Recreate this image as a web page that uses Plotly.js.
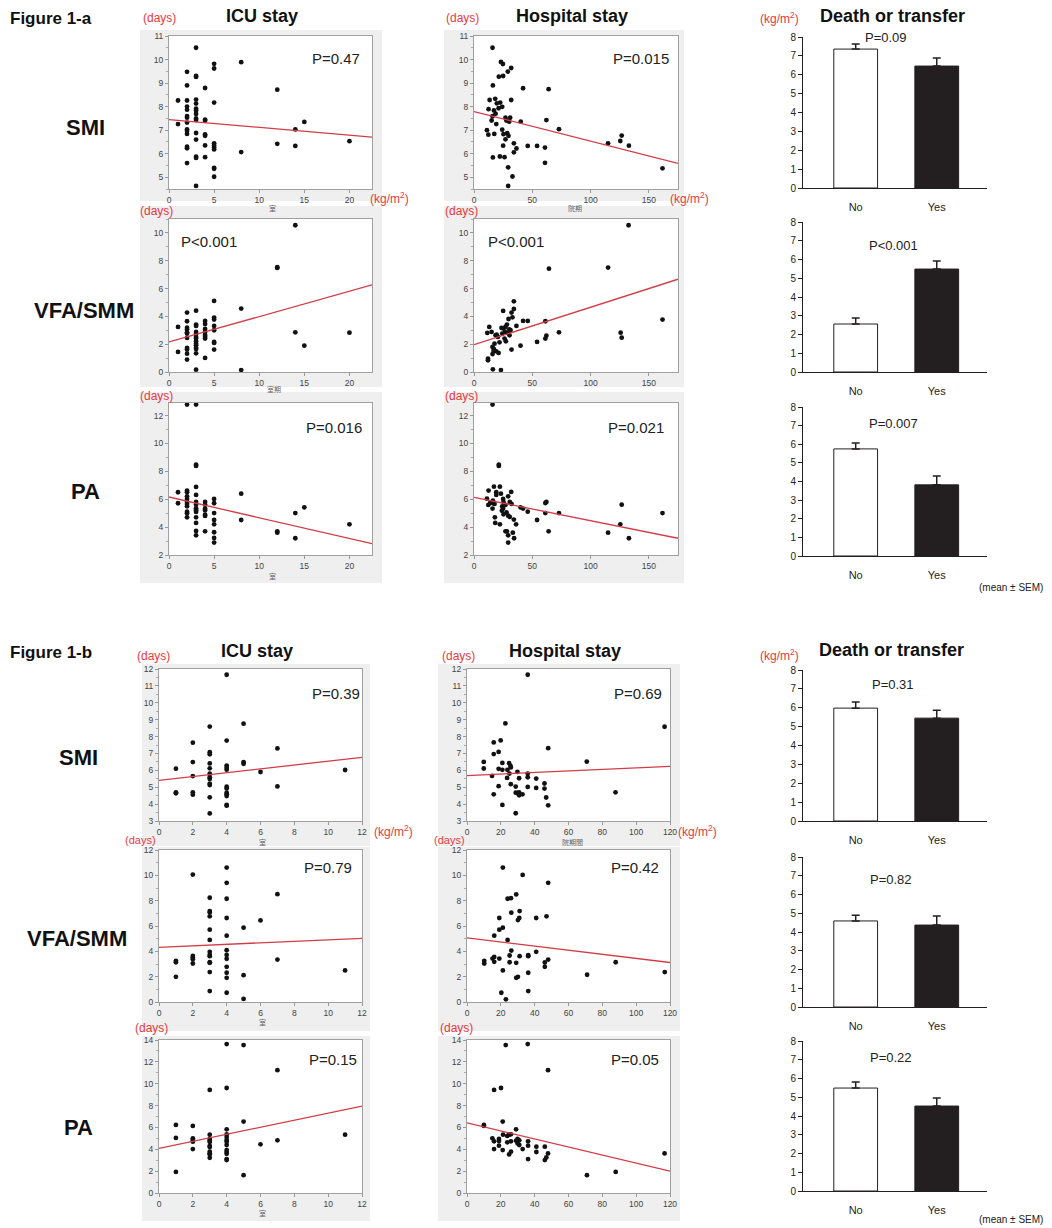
<!DOCTYPE html>
<html><head><meta charset="utf-8">
<script src="https://cdn.plot.ly/plotly-3.0.1.min.js"></script>
<style>html,body{margin:0;padding:0;background:#fff;}#chart{width:1052px;height:1228px;}</style>
</head><body><div id="chart"></div>
<script>
// ---------------- DATA ----------------
// Figure 1-a : x = stay (days), y = measure
const aIcuSmiX=[1,1,2,2,2,2,2,2,2,2,2,2,2,2,2,2,3,3,3,3,3,3,3,3,3,3,3,3,3,3,3,4,4,4,4,4,4,4,5,5,5,5,5,5,5,5,5,5,8,8,12,12,14,14,15,20];
const aIcuSmiY=[8.26,7.26,9.48,8.9,8.26,8.0,7.87,7.6,7.53,7.32,7.03,6.96,6.84,6.3,6.23,5.6,10.5,9.3,9.26,8.3,8.13,7.91,7.84,7.69,7.5,7.43,6.88,6.6,5.87,5.82,4.63,8.79,7.45,7.4,6.82,6.76,6.35,5.85,9.82,9.62,8.17,6.44,6.35,6.26,6.18,5.4,5.36,5.02,9.89,6.07,8.72,6.42,7.03,6.33,7.35,6.53];
const aHosSmiX=[15.9,23.1,24.8,31.9,29.0,21.3,25.0,16.2,42.1,64.0,13.4,18.2,31.9,22.5,19.6,24.2,21.1,12.5,17.1,18.5,15.9,27.0,31.0,15.1,27.8,30.2,40.1,62.1,19.1,11.1,24.2,72.9,12.3,17.4,25.3,28.5,29.6,27.0,25.0,34.2,36.4,34.2,46.1,54.1,60.9,60.9,16.2,22.2,26.2,29.3,33.0,29.3,115.0,125.5,126.7,132.9,161.7];
const aHosSmiY=[10.5,9.9,9.81,9.64,9.49,9.27,9.3,8.9,8.78,8.74,8.28,8.33,8.28,8.17,8.14,7.99,7.93,7.89,7.84,7.70,7.59,7.53,7.53,7.41,7.41,7.36,7.36,7.43,7.26,7.0,7.02,7.04,6.81,6.84,6.83,6.87,6.76,6.61,6.34,6.44,6.22,6.06,6.33,6.33,6.26,5.61,5.84,5.88,5.85,5.42,5.03,4.63,6.44,6.54,6.77,6.34,5.38];
const aIcuVfaX=[1,1,2,2,2,2,2,2,2,2,2,2,2,3,3,3,3,3,3,3,3,3,3,3,3,3,3,4,4,4,4,4,4,4,4,5,5,5,5,5,5,5,5,8,8,12,12,14,14,15,20];
const aIcuVfaY=[3.24,1.44,4.27,3.65,3.19,3.05,2.85,2.76,2.45,1.73,1.61,1.32,0.89,4.41,3.41,3.31,2.88,2.73,2.52,2.40,2.21,2.04,1.92,1.75,1.65,1.34,0.17,3.67,3.45,3.09,2.88,2.66,2.54,2.40,1.01,5.11,3.91,3.77,3.31,3.0,2.16,2.09,1.61,4.56,0.14,7.48,7.53,10.55,2.85,1.89,2.83];
const aHosVfaX=[132.6,115.0,64.3,25.0,34.2,34.2,32.2,33.0,29.6,36.4,42.1,46.1,61.2,161.7,13.1,11.4,15.1,18.5,23.6,25.3,27.0,28.2,30.2,31.3,24.2,26.5,29.3,30.5,20.5,26.2,27.3,21.9,17.6,15.9,17.1,19.1,21.1,15.9,16.8,12.0,12.0,32.2,39.9,54.1,61.2,62.1,72.9,125.8,126.7,16.2,23.1,19.4];
const aHosVfaY=[10.55,7.51,7.43,4.39,5.08,4.53,4.27,3.93,3.81,3.31,3.67,3.67,3.65,3.77,3.24,2.81,2.88,2.64,3.17,3.12,3.24,3.41,3.07,3.0,2.76,2.88,2.81,2.64,2.52,2.40,2.21,2.13,2.04,1.80,1.65,1.49,1.37,1.29,1.51,0.96,0.84,1.61,1.89,2.16,2.40,2.61,2.85,2.83,2.47,0.19,0.14,2.69];
const aIcuPaX=[1,1,2,2,2,2,2,2,2,2,2,2,2,3,3,3,3,3,3,3,3,3,3,3,3,3,3,4,4,4,4,4,4,4,5,5,5,5,5,5,5,5,8,8,12,12,14,14,15,20];
const aIcuPaY=[6.50,5.71,12.79,6.62,6.50,6.21,6.02,5.80,5.66,5.49,5.11,4.99,4.70,12.79,8.48,8.39,6.88,6.31,5.80,5.61,5.35,5.21,5.09,4.70,4.30,3.72,3.41,5.80,5.61,5.33,5.21,4.89,4.80,3.70,6.02,5.71,5.01,4.51,4.20,3.63,3.22,2.89,6.40,4.51,3.70,3.60,5.01,3.20,5.42,4.20];
const aHosPaX=[15.9,21.3,21.3,17.1,22.2,12.5,19.1,19.1,23.1,31.9,29.3,11.1,13.9,12.3,16.2,15.7,17.6,25.0,25.3,30.7,32.2,27.0,24.2,15.9,25.0,23.9,27.9,25.3,29.3,30.7,17.9,18.2,22.2,34.2,36.1,27.0,28.2,33.3,29.3,34.4,29.3,39.9,42.1,46.1,54.1,61.2,62.1,61.2,64.0,72.9,115.0,125.5,126.7,132.9,161.7];
const aHosPaY=[12.79,8.48,8.39,6.90,6.90,6.62,6.50,6.31,6.40,6.52,6.21,6.04,5.73,5.59,5.90,5.73,5.66,6.02,5.80,5.80,5.66,5.59,5.49,5.33,5.33,5.18,5.06,4.92,4.82,4.73,4.70,4.30,4.20,4.54,4.20,3.70,3.70,3.60,3.41,3.20,2.89,5.42,5.33,5.11,4.51,5.73,5.80,5.01,3.70,5.01,3.60,4.20,5.61,3.20,5.01];
// Figure 1-b
const bIcuSmiX=[1,1,1,2,2,2,2,2,3,3,3,3,3,3,3,3,3,3,3,3,4,4,4,4,4,4,4,4,4,4,4,4,5,5,5,6,7,7,11];
const bIcuSmiY=[6.10,4.70,4.64,7.64,6.49,5.66,4.70,4.56,8.59,7.07,6.95,6.41,6.12,5.80,5.59,5.49,5.21,5.13,4.40,3.45,11.66,7.76,6.28,6.16,6.04,5.03,4.93,4.68,4.58,4.48,3.95,3.91,8.76,6.49,6.39,5.90,7.30,5.05,6.02];
const bHosSmiX=[35.9,22.7,116.8,19.9,15.8,48.0,18.7,15.8,9.9,70.8,20.9,24.9,25.7,25.9,9.9,18.7,20.9,23.9,29.8,35.9,25.1,14.8,23.7,30.8,35.9,40.9,25.9,45.8,18.7,28.8,35.9,40.9,45.8,15.8,28.8,29.8,30.8,30.8,32.8,87.8,46.8,20.9,48.0,28.8];
const bHosSmiY=[11.66,8.78,8.58,7.77,7.65,7.31,7.09,6.96,6.50,6.52,6.44,6.42,6.26,6.17,6.11,6.09,6.03,6.03,5.91,5.81,5.81,5.67,5.55,5.53,5.59,5.51,5.18,5.22,5.06,5.04,5.02,4.96,4.92,4.58,4.68,4.66,4.70,4.52,4.58,4.70,4.39,3.95,3.93,3.46];
const bIcuVfaX=[1,1,1,2,2,2,2,2,3,3,3,3,3,3,3,3,3,3,3,3,3,4,4,4,4,4,4,4,4,4,4,4,4,5,5,5,6,7,7,11];
const bIcuVfaY=[3.25,3.14,1.99,10.06,3.64,3.51,3.38,3.04,8.23,7.18,7.07,6.76,5.71,4.90,3.96,3.72,3.62,3.14,3.09,2.36,0.86,10.61,9.41,8.15,6.63,5.24,4.09,3.72,3.41,2.78,2.31,1.91,0.73,5.87,2.12,0.24,6.44,8.51,3.35,2.49];
const bHosVfaX=[21.2,32.9,48.0,29.1,24.0,26.0,31.1,26.2,19.1,30.9,30.1,40.9,47.0,19.1,21.2,16.1,24.0,26.2,40.9,10.2,10.2,15.1,16.1,16.1,19.1,25.2,25.2,31.1,36.2,36.2,29.1,48.0,46.0,46.0,87.9,21.2,36.2,29.1,30.1,71.0,116.9,20.3,36.2,23.0];
const bHosVfaY=[10.61,10.03,9.41,8.49,8.15,8.20,7.18,7.05,6.63,6.63,6.47,6.63,6.76,5.71,5.87,5.24,4.90,4.06,3.96,3.25,3.04,3.43,3.56,3.17,3.43,3.67,3.14,3.62,3.69,3.62,3.09,3.35,3.12,2.78,3.14,2.49,2.31,1.91,1.99,2.15,2.36,0.73,0.86,0.21];
const bIcuPaX=[1,1,1,2,2,2,2,2,3,3,3,3,3,3,3,3,3,3,3,4,4,4,4,4,4,4,4,4,4,4,4,4,5,5,5,6,7,7,11];
const bIcuPaY=[6.23,5.04,1.93,6.14,5.0,4.85,4.70,4.02,9.43,5.34,4.94,4.79,4.67,4.30,4.21,3.78,3.62,3.53,3.22,13.63,9.61,5.83,5.37,5.13,4.85,4.70,4.39,3.93,3.75,3.59,3.10,3.01,13.54,6.54,1.63,4.45,11.24,4.82,5.34];
const bHosPaX=[35.9,22.9,47.9,20.1,16.0,21.1,10.0,10.0,29.0,21.3,24.9,26.0,23.8,15.0,29.9,18.9,30.9,18.9,16.0,29.0,26.0,36.1,23.8,29.9,30.9,18.9,36.1,41.0,46.0,16.0,32.9,21.1,26.0,41.0,24.9,47.9,46.9,46.0,36.1,116.8,87.9,70.9];
const bHosPaY=[13.63,13.54,11.24,9.61,9.43,6.54,6.23,6.14,5.83,5.34,5.34,5.37,5.22,5.0,4.94,4.94,4.82,4.76,4.73,4.79,4.73,4.73,4.64,4.54,4.39,4.33,4.33,4.24,4.24,4.02,4.02,3.93,3.78,3.75,3.53,3.62,3.25,3.01,3.10,3.62,1.93,1.63];

// regression line end points (x at axis start / end, fitted y)
const fitIcuA=[0,22.5], fitHosA=[0,175], fitIcuB=[0,12], fitHosB=[0,120];
const aIcuSmiFit=[7.45,6.70], aHosSmiFit=[7.79,5.59];
const aIcuVfaFit=[2.16,6.26], aHosVfaFit=[1.97,6.67];
const aIcuPaFit=[6.16,2.81],  aHosPaFit=[6.14,3.20];
const bIcuSmiFit=[5.41,6.77], bHosSmiFit=[5.69,6.24];
const bIcuVfaFit=[4.32,5.03], bHosVfaFit=[5.06,3.12];
const bIcuPaFit=[4.08,7.95],  bHosPaFit=[6.42,2.00];

// p-values
const pScatterA=["P=0.47","P=0.015","P<0.001","P<0.001","P=0.016","P=0.021"];
const pScatterB=["P=0.39","P=0.69","P=0.79","P=0.42","P=0.15","P=0.05"];
const pBarA=["P=0.09","P<0.001","P=0.007"];
const pBarB=["P=0.31","P=0.82","P=0.22"];

// bar charts: death or transfer (mean ± SEM)
const deathCats=["No","Yes"];
const aSmiMean=[7.36,6.46], aSmiSem=[0.27,0.43];
const aVfaMean=[2.56,5.49], aVfaSem=[0.32,0.43];
const aPaMean=[5.75,3.82],  aPaSem=[0.32,0.48];
const bSmiMean=[5.98,5.45], bSmiSem=[0.32,0.42];
const bVfaMean=[4.59,4.37], bVfaSem=[0.31,0.48];
const bPaMean=[5.49,4.53],  bPaSem=[0.32,0.43];

// text labels
const figLabels=["Figure 1-a","Figure 1-b"];
const colTitles=["ICU stay","Hospital stay","Death or transfer"];
const rowLabels=["SMI","VFA/SMM","PA"];

// ---------------- LAYOUT HELPERS ----------------
const W=1052,H=1228;
const px=v=>v/W, py=v=>1-v/H;
const SANS='Arial, "Liberation Sans", sans-serif';
const RED='#e8383d';

const scat=[
 {x:aIcuSmiX,y:aIcuSmiY,fx:fitIcuA,fy:aIcuSmiFit,b:[169,372,36,189],xr:[0,22.5],yr:[4.5,11],xd:5,yd:1,p:pScatterA[0],pp:[336,58]},
 {x:aHosSmiX,y:aHosSmiY,fx:fitHosA,fy:aHosSmiFit,b:[474,678,36,189],xr:[0,175],yr:[4.5,11],xd:50,yd:1,p:pScatterA[1],pp:[641,58]},
 {x:aIcuVfaX,y:aIcuVfaY,fx:fitIcuA,fy:aIcuVfaFit,b:[169,372,219,372],xr:[0,22.5],yr:[0,11],xd:5,yd:2,p:pScatterA[2],pp:[209,242]},
 {x:aHosVfaX,y:aHosVfaY,fx:fitHosA,fy:aHosVfaFit,b:[474,678,219,372],xr:[0,175],yr:[0,11],xd:50,yd:2,p:pScatterA[3],pp:[516,242]},
 {x:aIcuPaX,y:aIcuPaY,fx:fitIcuA,fy:aIcuPaFit,b:[169,372,403,555],xr:[0,22.5],yr:[2,12.9],xd:5,yd:2,p:pScatterA[4],pp:[334,428]},
 {x:aHosPaX,y:aHosPaY,fx:fitHosA,fy:aHosPaFit,b:[474,678,403,555],xr:[0,175],yr:[2,12.9],xd:50,yd:2,p:pScatterA[5],pp:[636,428]},
 {x:bIcuSmiX,y:bIcuSmiY,fx:fitIcuB,fy:bIcuSmiFit,b:[159,362,669,821],xr:[0,12],yr:[3,12],xd:2,yd:1,p:pScatterB[0],pp:[336,693]},
 {x:bHosSmiX,y:bHosSmiY,fx:fitHosB,fy:bHosSmiFit,b:[467,670,669,821],xr:[0,120],yr:[3,12],xd:20,yd:1,p:pScatterB[1],pp:[638,693]},
 {x:bIcuVfaX,y:bIcuVfaY,fx:fitIcuB,fy:bIcuVfaFit,b:[159,362,850,1002],xr:[0,12],yr:[0,12],xd:2,yd:2,p:pScatterB[2],pp:[328,867]},
 {x:bHosVfaX,y:bHosVfaY,fx:fitHosB,fy:bHosVfaFit,b:[467,670,850,1002],xr:[0,120],yr:[0,12],xd:20,yd:2,p:pScatterB[3],pp:[635,867]},
 {x:bIcuPaX,y:bIcuPaY,fx:fitIcuB,fy:bIcuPaFit,b:[159,362,1040,1193],xr:[0,12],yr:[0,14],xd:2,yd:2,p:pScatterB[4],pp:[333,1059]},
 {x:bHosPaX,y:bHosPaY,fx:fitHosB,fy:bHosPaFit,b:[467,670,1040,1193],xr:[0,120],yr:[0,14],xd:20,yd:2,p:pScatterB[5],pp:[635,1059]}
];
const bars=[
 {m:aSmiMean,s:aSmiSem,b:[803,987,37,188],p:pBarA[0],pp:[886,37]},
 {m:aVfaMean,s:aVfaSem,b:[803,987,222,372],p:pBarA[1],pp:[893,246]},
 {m:aPaMean,s:aPaSem,b:[803,987,407,556],p:pBarA[2],pp:[893,424]},
 {m:bSmiMean,s:bSmiSem,b:[803,987,670,821],p:pBarB[0],pp:[893,684]},
 {m:bVfaMean,s:bVfaSem,b:[803,987,857,1007],p:pBarB[1],pp:[891,879]},
 {m:bPaMean,s:bPaSem,b:[803,987,1041,1191],p:pBarB[2],pp:[891,1057]}
];
// gray panels behind scatter plots [x0,x1,y0,y1]
const panelsBg=[
 [140,382,30,201],[444,684,30,201],
 [140,382,206,387],[444,684,206,387],
 [140,382,392,583],[444,684,392,583],
 [142,370,664,846],[438,680,664,846],
 [142,370,847,1031],[438,680,847,1031],
 [142,370,1036,1221],[438,680,1036,1221]
];

const data=[], layout={
 width:W,height:H,margin:{l:0,r:0,t:0,b:0},paper_bgcolor:'#ffffff',plot_bgcolor:'rgba(0,0,0,0)',
 showlegend:false,font:{family:SANS,color:'#222'},shapes:[],annotations:[]
};
function ann(t,x,y,o){layout.annotations.push(Object.assign({text:t,x:px(x),y:py(y),xref:'paper',yref:'paper',showarrow:false,xanchor:'center',yanchor:'middle'},o||{}));}

panelsBg.forEach(r=>layout.shapes.push({type:'rect',xref:'paper',yref:'paper',x0:px(r[0]),x1:px(r[1]),y0:py(r[3]),y1:py(r[2]),fillcolor:'#efefef',line:{width:0},layer:'below'}));
scat.forEach(s=>layout.shapes.push({type:'rect',xref:'paper',yref:'paper',x0:px(s.b[0]),x1:px(s.b[1]),y0:py(s.b[3]),y1:py(s.b[2]),fillcolor:'#ffffff',line:{width:0},layer:'below'}));

let k=0;
scat.forEach(s=>{
 k++; const xa=k===1?'x':'x'+k, ya=k===1?'y':'y'+k;
 data.push({type:'scatter',mode:'markers',x:s.x,y:s.y,xaxis:xa,yaxis:ya,cliponaxis:false,marker:{color:'#111',size:4.8},hoverinfo:'skip'});
 data.push({type:'scatter',mode:'lines',x:s.fx,y:s.fy,xaxis:xa,yaxis:ya,line:{color:'#d23c47',width:1.3},hoverinfo:'skip'});
 layout[k===1?'xaxis':'xaxis'+k]={domain:[px(s.b[0]),px(s.b[1])],anchor:ya,range:s.xr,dtick:s.xd,tick0:0,showline:true,mirror:true,linecolor:'#a0a0a0',linewidth:1,ticks:'outside',ticklen:3,tickcolor:'#999',tickfont:{size:8.5,color:'#444'},showgrid:false,zeroline:false,fixedrange:true};
 layout[k===1?'yaxis':'yaxis'+k]={domain:[py(s.b[3]),py(s.b[2])],anchor:xa,range:s.yr,dtick:s.yd,tick0:0,showline:true,mirror:true,linecolor:'#a0a0a0',linewidth:1,ticks:'outside',ticklen:3,tickcolor:'#999',tickfont:{size:8.5,color:'#444'},showgrid:false,zeroline:false,fixedrange:true,
   minor:{ticks:'outside',ticklen:2,dtick:s.yd/2,tick0:0,tickcolor:'#aaa',showgrid:false}};
 ann(s.p,s.pp[0],s.pp[1],{font:{family:SANS,size:15,color:'#222'}});
});
bars.forEach(b=>{
 k++; const xa='x'+k, ya='y'+k;
 data.push({type:'bar',x:deathCats,y:b.m,xaxis:xa,yaxis:ya,width:0.54,marker:{color:['#ffffff','#231f20'],line:{color:'#231f20',width:1}},
   error_y:{type:'data',symmetric:false,array:b.s,arrayminus:[0,0],color:'#231f20',thickness:1.5,width:4},hoverinfo:'skip'});
 layout['xaxis'+k]={domain:[px(b.b[0]),px(b.b[1])],anchor:ya,type:'category',range:[-0.65,1.62],showline:true,linecolor:'#231f20',linewidth:1,ticks:'',ticklabelstandoff:9,tickfont:{size:11,color:'#222'},showgrid:false,zeroline:false,fixedrange:true};
 layout['yaxis'+k]={domain:[py(b.b[3]),py(b.b[2])],anchor:xa,range:[0,8],dtick:1,showline:true,linecolor:'#231f20',linewidth:1,ticks:'outside',ticklen:4,tickcolor:'#231f20',tickfont:{size:10,color:'#222'},showgrid:false,zeroline:false,fixedrange:true};
 ann(b.p,b.pp[0],b.pp[1],{font:{family:SANS,size:13,color:'#222'}});
});

// figure labels, titles, row labels
ann('<b>'+figLabels[0]+'</b>',51,18,{font:{family:SANS,size:17,color:'#111'}});
ann('<b>'+figLabels[1]+'</b>',51,652,{font:{family:SANS,size:17,color:'#111'}});
[[262,16],[572,16],[892,16]].forEach((p,i)=>ann('<b>'+colTitles[i]+'</b>',p[0],p[1],{font:{family:SANS,size:18,color:'#111'}}));
[[257,651],[565,651],[891,650]].forEach((p,i)=>ann('<b>'+colTitles[i]+'</b>',p[0],p[1],{font:{family:SANS,size:18,color:'#111'}}));
[[85,127],[84,310],[85,492]].forEach((p,i)=>ann('<b>'+rowLabels[i]+'</b>',p[0],p[1],{font:{family:SANS,size:22,color:'#111'}}));
[[78,757],[77,938],[78,1127]].forEach((p,i)=>ann('<b>'+rowLabels[i]+'</b>',p[0],p[1],{font:{family:SANS,size:22,color:'#111'}}));

// unit labels in red
const RF={family:SANS,size:12,color:RED};
const RFs={family:SANS,size:11,color:RED};
[[159,18],[462,18],[156,211],[461,211],[156,396],[461,396],[153,656],[458,656],[151,1028],[456,1028]].forEach(p=>ann('(days)',p[0],p[1],{font:RF}));
[[140,840],[449,840]].forEach(p=>ann('(days)',p[0],p[1],{font:RFs}));
[[389,198],[689,198],[393,831],[697,831],[779,18],[779,655]].forEach(p=>ann('(kg/m<sup>2</sup>)',p[0],p[1],{font:RF}));
ann('(mean \u00b1 SEM)',1011,587,{font:{family:SANS,size:10,color:'#222'}});
ann('(mean \u00b1 SEM)',1011,1219,{font:{family:SANS,size:10,color:'#222'}});

// small axis captions
const CJ={family:'"Noto Sans CJK JP", "Noto Sans CJK SC", sans-serif',size:7,color:'#666'};
[['室',272,208],['院期',575,208],['室期',274,389],['室',272,576],['室',262,842],['院期間',572,842],['室',262,1022],['室',262,1213]].forEach(c=>ann(c[0],c[1],c[2],{font:CJ}));

Plotly.newPlot('chart',data,layout,{displayModeBar:false,staticPlot:true});
</script></body></html>
